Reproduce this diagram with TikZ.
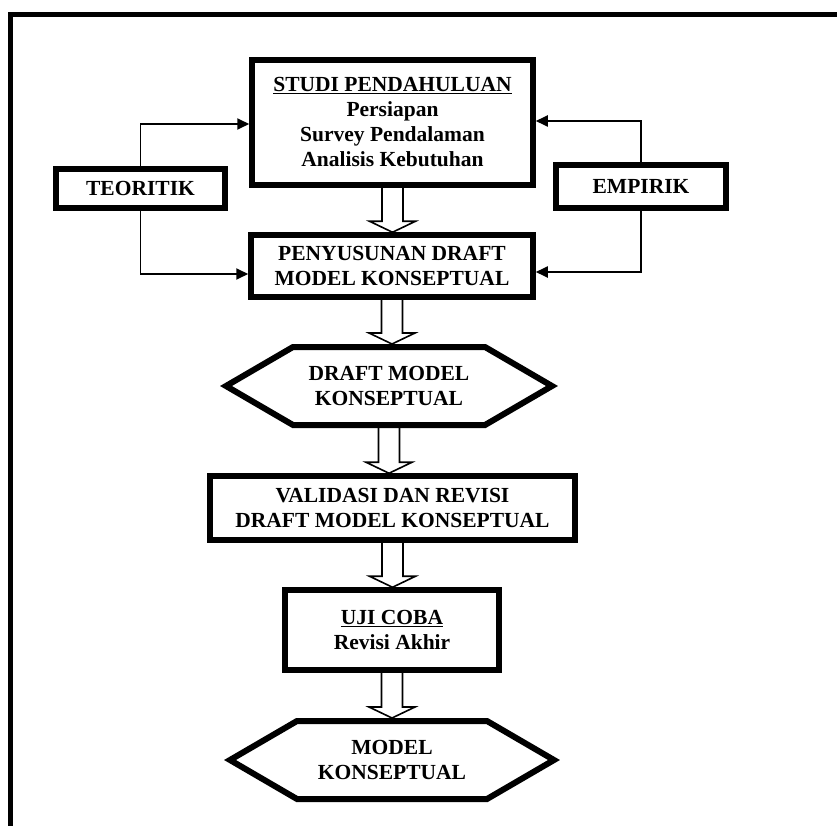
\documentclass[tikz,border=0pt]{standalone}
\usepackage{fontspec}
\setmainfont{Liberation Serif}
\usetikzlibrary{arrows.meta,calc}

\newcommand{\hollowdown}[2]{%
  \draw[hollow] let \p1=(#1.south), \p2=(#2.north) in
    (\x1-10.5pt,\y1) -- (\x1-10.5pt,\y2+11pt) -- (\x1-23pt,\y2+11pt) -- (\x1,\y2)
    -- (\x1+23pt,\y2+11pt) -- (\x1+10.5pt,\y2+11pt) -- (\x1+10.5pt,\y1);}
\newcommand{\hexframe}[1]{%
  \draw[hexline] ([xshift=3pt]#1.west) -- ([xshift=70pt,yshift=-3pt]#1.north west)
    -- ([xshift=-70pt,yshift=-3pt]#1.north east) -- ([xshift=-3pt]#1.east)
    -- ([xshift=-70pt,yshift=3pt]#1.south east) -- ([xshift=70pt,yshift=3pt]#1.south west) -- cycle;}

\begin{document}
\begin{tikzpicture}[x=1pt,y=-1pt,>={Triangle[length=12pt,width=11pt]},
    font=\bfseries\fontsize{21.5}{25}\selectfont,
    box/.style={draw,line width=5.5pt,align=center,inner sep=0pt},
    hexa/.style={align=center,inner sep=0pt,outer sep=3pt,minimum height=78pt},
    hexline/.style={line width=6pt},
    conn/.style={line width=1.8pt},
    hollow/.style={line width=1.6pt}]
    \useasboundingbox (0,0) rectangle (837,826);
    \clip (0,0) rectangle (837,826);
    \draw[line width=5pt] (10,14.5) rectangle (880,880);

    \node[box,minimum width=281pt,minimum height=125pt] (studi) at (392.5,122.5)
        {\underline{STUDI PENDAHULUAN}\\Persiapan\\Survey Pendalaman\\Analisis Kebutuhan};
    \node[box,minimum width=282pt,minimum height=62pt] (draft) at (392,266)
        {PENYUSUNAN DRAFT\\MODEL KONSEPTUAL};
    \node[box,minimum width=169pt,minimum height=39pt] (teori) at (140.5,188.5) {TEORITIK};
    \node[box,minimum width=170pt,minimum height=43pt] (empiri) at (641,186.5) {EMPIRIK};
    \node[hexa,minimum width=326pt] (hexa1) at (389,386) {DRAFT MODEL\\KONSEPTUAL};
    \node[box,minimum width=365pt,minimum height=64pt] (valid) at (392.5,508)
        {VALIDASI DAN REVISI\\DRAFT MODEL KONSEPTUAL};
    \node[box,minimum width=214pt,minimum height=80pt] (uji) at (392,630)
        {\underline{UJI COBA}\\Revisi Akhir};
    \node[hexa,minimum width=324pt] (hexa2) at (392,760) {MODEL\\KONSEPTUAL};
    \hexframe{hexa1}
    \hexframe{hexa2}

    \draw[conn,->] (teori.north) |- ([yshift=-1.5pt]studi.west);
    \draw[conn,->] (teori.south) |- ([yshift=-8pt]draft.west);
    \draw[conn,->] (empiri.north) |- ([yshift=1.5pt]studi.east);
    \draw[conn,->] (empiri.south) |- ([yshift=-6pt]draft.east);

    \hollowdown{studi}{draft}
    \hollowdown{draft}{hexa1}
    \hollowdown{hexa1}{valid}
    \hollowdown{valid}{uji}
    \hollowdown{uji}{hexa2}
\end{tikzpicture}
\end{document}
